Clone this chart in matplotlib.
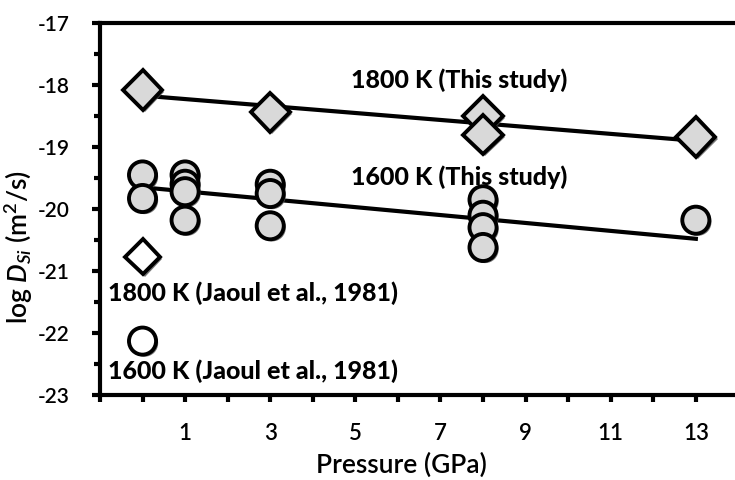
import matplotlib
matplotlib.use("Agg")
import matplotlib.pyplot as plt
import matplotlib.patheffects as pe
import numpy as np

plt.rcParams["font.family"] = ["Lato", "DejaVu Sans"]
plt.rcParams["mathtext.fontset"] = "custom"
plt.rcParams["mathtext.rm"] = "Lato:semibold"
plt.rcParams["mathtext.it"] = "Lato:italic:semibold"
plt.rcParams["axes.unicode_minus"] = False

# 1800 K (this study) - diamonds
p_1800 = [0, 3, 8, 8, 13]
d_1800 = [-18.08, -18.44, -18.50, -18.80, -18.84]

# 1600 K (this study) - circles
p_1600 = [0, 0, 1, 1, 1, 1, 3, 3, 3, 8, 8, 8, 8, 13]
d_1600 = [-19.45, -19.83, -19.45, -19.60, -19.72, -20.18,
          -19.60, -19.75, -20.27, -19.85, -20.10, -20.30, -20.62, -20.18]

# Jaoul et al. (1981)
p_jaoul = [0]
d_jaoul_1800 = [-20.77]
d_jaoul_1600 = [-22.13]

# fitted lines
p_fit = [0, 13]
fit_1800 = [-18.17, -18.90]
fit_1600 = [-19.65, -20.48]

grey = "#d9d9d9"
shadow = [pe.SimplePatchShadow(offset=(1.5, -1.5), shadow_rgbFace="#555555", alpha=0.8), pe.Normal()]

fig = plt.figure(figsize=(7.35, 4.8), dpi=100)
ax = fig.add_axes([0.136, 0.177, 0.864, 0.775])

ax.plot(p_fit, fit_1800, color="black", lw=3, zorder=2)
ax.plot(p_fit, fit_1600, color="black", lw=3, zorder=2)

ax.plot(p_1800, d_1800, ls="none", marker="D", ms=20, mfc=grey, mec="black", mew=2.8,
        zorder=3, path_effects=shadow)
ax.plot(p_1600, d_1600, ls="none", marker="o", ms=19.5, mfc=grey, mec="black", mew=2.8,
        zorder=3, path_effects=shadow)
ax.plot(p_jaoul, d_jaoul_1800, ls="none", marker="D", ms=18, mfc="white", mec="black", mew=2.8,
        zorder=3, path_effects=shadow)
ax.plot(p_jaoul, d_jaoul_1600, ls="none", marker="o", ms=19.5, mfc="white", mec="black", mew=2.8,
        zorder=3, path_effects=shadow)

kw = dict(fontsize=18, fontweight="black", va="center")
ax.text(7.44, -17.92, "1800 K (This study)", ha="center", **kw)
ax.text(7.44, -19.48, "1600 K (This study)", ha="center", **kw)
ax.text(-0.8, -21.35, "1800 K (Jaoul et al., 1981)", ha="left", **kw)
ax.text(-0.8, -22.62, "1600 K (Jaoul et al., 1981)", ha="left", **kw)

ax.set_xlim(-1, 13.92)
ax.set_ylim(-23, -17)
ax.set_xticks([1, 3, 5, 7, 9, 11, 13])
ax.set_xticks(np.arange(-1, 14, 1), minor=True)
ax.set_yticks(np.arange(-23, -16, 1))
ax.set_yticks(np.arange(-22.5, -17, 1), minor=True)
ax.tick_params(axis="x", which="both", direction="out", length=5, width=3, labelsize=16, pad=15)
ax.tick_params(axis="y", which="major", direction="out", length=6, width=3, labelsize=15, pad=16)
ax.tick_params(axis="y", which="minor", direction="out", length=4, width=3)
for lbl in ax.get_xticklabels() + ax.get_yticklabels():
    lbl.set_fontweight("semibold")

for s in ["left", "bottom", "top"]:
    ax.spines[s].set_linewidth(3)
ax.spines["right"].set_visible(False)

ax.set_xlabel("Pressure (GPa)", fontsize=19, fontweight="semibold")
ax.set_ylabel(r"log $D_{Si}$ (m$^2$/s)", fontsize=19, fontweight="semibold")
ax.xaxis.set_label_coords(0.474, -0.155)
ax.yaxis.set_label_coords(-0.102, 0.398)

fig.savefig("out.png", dpi=100)
